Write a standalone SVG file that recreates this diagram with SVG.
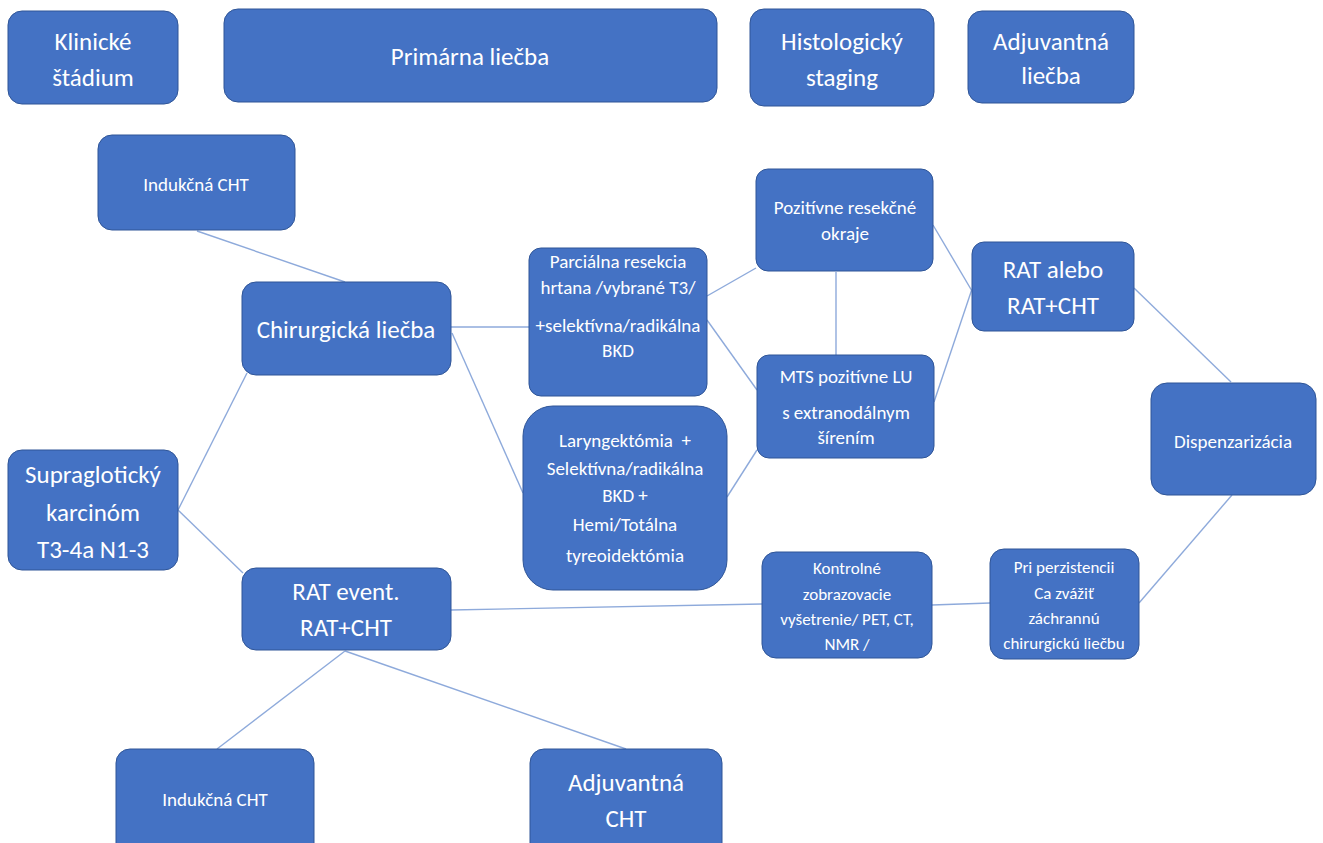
<svg xmlns="http://www.w3.org/2000/svg" width="1323" height="843" viewBox="0 0 1323 843">
<defs>
<style>
.box{fill:#4472c4;stroke:#2f5597;stroke-width:1}
.t{fill:#ffffff;font-family:Carlito,"Liberation Sans Narrow","Open Sans","Noto Sans",sans-serif;text-anchor:middle}
.l{font-size:25px}
.m{font-size:19px}
.s{font-size:19px}
.xs{font-size:17px}
.c line{stroke:#8eaadb;stroke-width:1.4}
</style>
</defs>
<rect width="1323" height="843" fill="#ffffff"/>
<g class="c" id="connectors">
<line x1="197" y1="231" x2="345" y2="282"/>
<line x1="451" y1="327" x2="529" y2="327"/>
<line x1="452" y1="333" x2="523" y2="493"/>
<line x1="178" y1="510" x2="247" y2="373"/>
<line x1="178" y1="510" x2="243" y2="573"/>
<line x1="707" y1="296" x2="756" y2="268"/>
<line x1="707" y1="320" x2="757" y2="390"/>
<line x1="836" y1="272" x2="836" y2="355"/>
<line x1="933" y1="225" x2="972" y2="291"/>
<line x1="934" y1="402" x2="972" y2="289"/>
<line x1="727" y1="497" x2="757" y2="450"/>
<line x1="1134" y1="288" x2="1231" y2="382"/>
<line x1="451" y1="610" x2="762" y2="604"/>
<line x1="932" y1="605" x2="990" y2="603"/>
<line x1="1139" y1="603" x2="1232" y2="495"/>
<line x1="345" y1="651" x2="217" y2="749"/>
<line x1="345" y1="651" x2="626" y2="749"/>
</g>
<g id="n-klinicke"><rect class="box" x="8" y="11" width="170" height="93" rx="14"/><text class="t l" x="93" y="50">Klinické</text><text class="t l" x="93" y="86">štádium</text></g>
<g id="n-primarna"><rect class="box" x="224" y="9" width="493" height="93" rx="14"/><text class="t l" x="470" y="65">Primárna liečba</text></g>
<g id="n-histo"><rect class="box" x="750" y="9" width="184" height="97" rx="14"/><text class="t l" x="842" y="50">Histologický</text><text class="t l" x="842" y="86">staging</text></g>
<g id="n-adjuv"><rect class="box" x="968" y="11" width="166" height="92" rx="14"/><text class="t l" x="1051" y="50">Adjuvantná</text><text class="t l" x="1051" y="84">liečba</text></g>
<g id="n-indukcna1"><rect class="box" x="98" y="135" width="197" height="95" rx="14"/><text class="t m" x="196" y="191">Indukčná CHT</text></g>
<g id="n-chirurg"><rect class="box" x="242" y="282" width="209" height="93" rx="14"/><text class="t l" x="346" y="338">Chirurgická liečba</text></g>
<g id="n-supra"><rect class="box" x="8" y="450" width="170" height="120" rx="14"/><text class="t l" x="93" y="483">Supraglotický</text><text class="t l" x="93" y="521">karcinóm</text><text class="t l" x="93" y="558">T3-4a N1-3</text></g>
<g id="n-ratevent"><rect class="box" x="242" y="568" width="209" height="82" rx="14"/><text class="t l" x="346" y="600">RAT event.</text><text class="t l" x="346" y="636">RAT+CHT</text></g>
<g id="n-parcialna"><rect class="box" x="529" y="248" width="178" height="148" rx="12"/><text class="t m" x="618" y="268">Parciálna resekcia</text><text class="t m" x="618" y="294">hrtana /vybrané T3/</text><text class="t m" x="618" y="332">+selektívna/radikálna</text><text class="t m" x="618" y="357">BKD</text></g>
<g id="n-laryng"><rect class="box" x="523" y="406" width="204" height="184" rx="30"/><text class="t m" x="625" y="447">Laryngektómia&#160; +</text><text class="t m" x="625" y="475">Selektívna/radikálna</text><text class="t m" x="625" y="502">BKD +</text><text class="t m" x="625" y="531">Hemi/Totálna</text><text class="t m" x="625" y="562">tyreoidektómia</text></g>
<g id="n-pozitivne"><rect class="box" x="756" y="169" width="177" height="102" rx="12"/><text class="t s" x="845" y="214">Pozitívne resekčné</text><text class="t s" x="845" y="240">okraje</text></g>
<g id="n-mts"><rect class="box" x="757" y="355" width="177" height="103" rx="12"/><text class="t m" x="846" y="383">MTS pozitívne LU</text><text class="t m" x="846" y="419">s extranodálnym</text><text class="t m" x="846" y="444">šírením</text></g>
<g id="n-ratalebo"><rect class="box" x="972" y="242" width="162" height="89" rx="12"/><text class="t l" x="1053" y="278">RAT alebo</text><text class="t l" x="1053" y="314">RAT+CHT</text></g>
<g id="n-dispenz"><rect class="box" x="1151" y="383" width="165" height="112" rx="16"/><text class="t m" x="1233" y="448">Dispenzarizácia</text></g>
<g id="n-kontrolne"><rect class="box" x="762" y="552" width="170" height="106" rx="14"/><text class="t xs" x="847" y="574">Kontrolné</text><text class="t xs" x="847" y="600">zobrazovacie</text><text class="t xs" x="847" y="625">vyšetrenie/ PET, CT,</text><text class="t xs" x="847" y="650">NMR /</text></g>
<g id="n-pri"><rect class="box" x="990" y="549" width="149" height="110" rx="14"/><text class="t xs" x="1064" y="573">Pri perzistencii</text><text class="t xs" x="1064" y="599">Ca zvážiť</text><text class="t xs" x="1064" y="624">záchrannú</text><text class="t xs" x="1064" y="649">chirurgickú liečbu</text></g>
<g id="n-indukcna2"><rect class="box" x="116" y="749" width="198" height="110" rx="14"/><text class="t m" x="215" y="806">Indukčná CHT</text></g>
<g id="n-adjcht"><rect class="box" x="530" y="749" width="192" height="110" rx="14"/><text class="t l" x="626" y="791">Adjuvantná</text><text class="t l" x="626" y="827">CHT</text></g>
</svg>
